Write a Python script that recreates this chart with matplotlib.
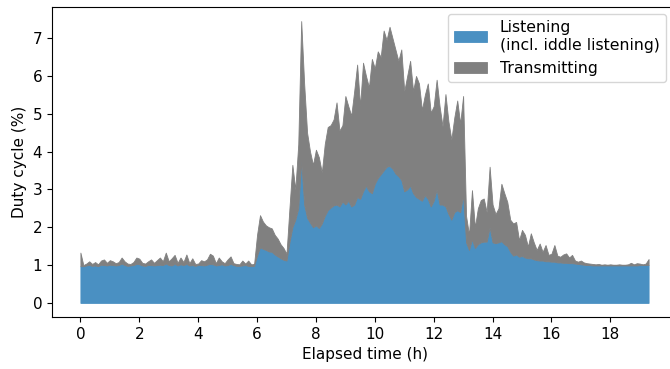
import numpy as np
import matplotlib
matplotlib.use("Agg")
import matplotlib.pyplot as plt

# elapsed time (h), one sample every 6 minutes
hours = np.round(np.arange(0, 19.35, 0.1), 1)

# listening duty cycle (%)
listening = [
    0.97, 0.97, 0.99, 1.00, 0.98, 0.99, 0.97, 1.01, 1.00, 0.99,
    1.01, 1.00, 0.99, 1.00, 1.04, 1.00, 0.98, 0.99, 1.00, 1.03,
    1.02, 0.99, 0.98, 1.00, 1.00, 0.99, 1.00, 1.01, 1.00, 1.04,
    1.00, 0.99, 1.03, 0.99, 1.02, 1.00, 1.03, 0.99, 1.00, 0.98,
    1.00, 1.00, 0.99, 1.01, 1.03, 1.02, 0.99, 1.00, 1.02, 0.99,
    1.00, 1.03, 1.00, 0.98, 0.98, 0.99, 1.00, 0.98, 0.97, 0.98,
    1.25, 1.47, 1.43, 1.40, 1.36, 1.35, 1.28, 1.23, 1.18, 1.14,
    1.12, 1.60, 2.00, 2.20, 2.50, 3.75, 2.60, 2.25, 2.12, 2.00,
    2.05, 1.98, 2.10, 2.30, 2.45, 2.52, 2.58, 2.60, 2.55, 2.68,
    2.60, 2.70, 2.55, 2.60, 2.80, 2.75, 2.95, 3.10, 2.95, 2.90,
    3.15, 3.30, 3.40, 3.50, 3.60, 3.62, 3.55, 3.42, 3.35, 3.25,
    2.95, 3.00, 3.10, 2.90, 2.80, 2.75, 2.70, 2.85, 2.75, 2.55,
    2.70, 3.00, 2.60, 2.60, 2.55, 2.35, 2.20, 2.40, 2.45, 2.40,
    2.85, 1.60, 1.40, 1.68, 1.45, 1.55, 1.60, 1.62, 1.62, 2.00,
    1.60, 1.58, 1.60, 1.63, 1.55, 1.50, 1.35, 1.25, 1.28, 1.22,
    1.24, 1.20, 1.18, 1.18, 1.15, 1.13, 1.12, 1.12, 1.10, 1.10,
    1.09, 1.09, 1.07, 1.07, 1.06, 1.06, 1.05, 1.05, 1.04, 1.03,
    1.02, 1.01, 1.00, 1.00, 0.99, 0.99, 0.99, 0.99, 0.99, 0.99,
    0.99, 0.99, 0.99, 0.99, 0.99, 0.99, 0.99, 0.99, 0.99, 0.99,
    1.00, 1.00, 1.00, 1.00,
]

# top of the stack = listening + transmitting (%)
total = [
    1.33, 1.00, 1.04, 1.10, 1.03, 1.08, 1.02, 1.12, 1.15, 1.06,
    1.13, 1.10, 1.05, 1.08, 1.20, 1.10, 1.04, 1.03, 1.08, 1.20,
    1.17, 1.06, 1.04, 1.10, 1.15, 1.06, 1.13, 1.20, 1.10, 1.33,
    1.10, 1.18, 1.27, 1.06, 1.20, 1.08, 1.28, 1.05, 1.18, 1.03,
    1.04, 1.13, 1.10, 1.15, 1.30, 1.25, 1.05, 1.20, 1.10, 1.05,
    1.15, 1.23, 1.05, 1.03, 1.02, 1.12, 1.04, 1.12, 1.02, 1.03,
    1.80, 2.32, 2.15, 2.05, 2.00, 1.97, 1.80, 1.70, 1.55, 1.45,
    1.30, 2.50, 3.65, 3.00, 4.20, 7.45, 5.80, 4.50, 4.00, 3.65,
    4.05, 3.85, 3.45, 4.20, 4.65, 4.70, 4.85, 5.30, 4.55, 4.70,
    5.47, 5.20, 4.95, 5.60, 6.30, 5.20, 6.35, 6.00, 5.70, 6.45,
    6.20, 6.65, 6.50, 7.20, 6.95, 7.30, 7.00, 6.70, 6.40, 6.70,
    5.60, 6.00, 6.40, 5.60, 6.00, 5.80, 5.10, 5.50, 5.80, 5.03,
    5.20, 5.90, 5.20, 4.67, 5.52, 4.80, 4.32, 4.90, 5.35, 4.74,
    5.47, 2.30, 1.80, 2.98, 2.00, 2.50, 2.72, 2.76, 2.40, 3.60,
    2.60, 2.35, 2.50, 3.15, 2.90, 2.67, 2.20, 2.10, 2.14, 1.66,
    1.93, 1.80, 1.49, 1.84, 1.60, 1.40, 1.57, 1.35, 1.53, 1.27,
    1.30, 1.53, 1.25, 1.22, 1.28, 1.31, 1.20, 1.27, 1.12, 1.09,
    1.12, 1.07, 1.05, 1.04, 1.03, 1.02, 1.03, 1.01, 1.02, 1.01,
    1.02, 1.01, 1.01, 1.02, 1.01, 1.01, 1.02, 1.06, 1.02, 1.05,
    1.04, 1.02, 1.04, 1.16,
]

labels = ["Listening\n(incl. iddle listening)", "Transmitting"]
colors = ["#4a90c2", "#808080"]

plt.rcParams["font.family"] = "DejaVu Sans"
plt.rcParams["font.size"] = 11

fig = plt.figure(figsize=(6.7, 3.69), dpi=100)
ax = fig.add_axes([52 / 670, 52 / 369, 625 / 670, 310 / 369])

ax.fill_between(hours, 0, listening, color=colors[0], lw=0.6, label=labels[0])
ax.fill_between(hours, listening, total, color=colors[1], lw=0.6, label=labels[1])

ax.set_xticks(range(0, 19, 2))
ax.set_yticks(range(0, 8))
ax.set_xlabel("Elapsed time (h)")
ax.set_ylabel("Duty cycle (%)")
ax.spines["right"].set_visible(False)

ax.legend(loc="upper right", bbox_to_anchor=(666 / 670, 1 - 14 / 369),
          bbox_transform=fig.transFigure, borderaxespad=0,
          fontsize=11.3, handlelength=2.1)

fig.savefig("out.png", dpi=100)
